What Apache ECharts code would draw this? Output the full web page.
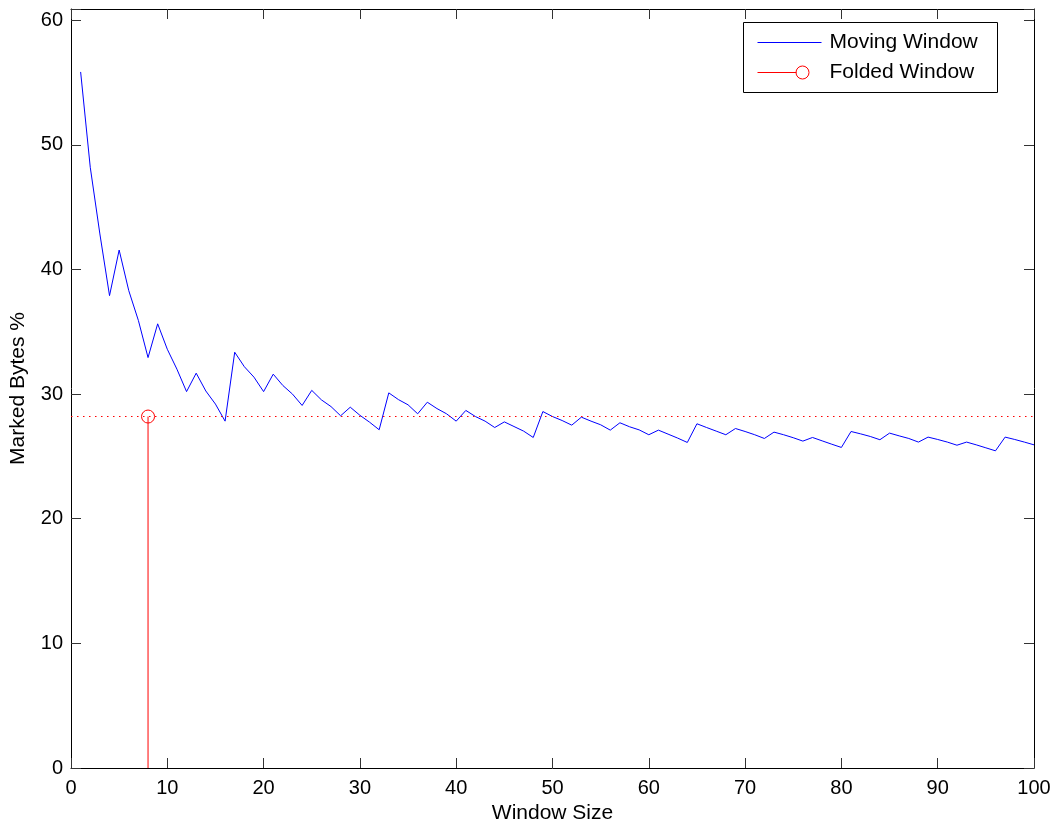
<!DOCTYPE html>
<html>
<head>
<meta charset="utf-8">
<title>Marked Bytes vs Window Size</title>
<script src="https://cdn.jsdelivr.net/npm/echarts@6/dist/echarts.min.js"></script>
<style>
  html, body { margin: 0; padding: 0; background: #fff; }
  #chart { width: 1058px; height: 824px; }
</style>
</head>
<body>
<div id="chart"></div>
<script>
// window sizes (x) and marked bytes % for the moving window
const windowSizes = [
  1, 2, 3, 4, 5, 6, 7, 8, 9, 10, 11, 12, 13, 14, 15, 16, 17, 18, 19, 20,
  21, 22, 23, 24, 25, 26, 27, 28, 29, 30, 31, 32, 33, 34, 35, 36, 37, 38, 39, 40,
  41, 42, 43, 44, 45, 46, 47, 48, 49, 50, 51, 52, 53, 54, 55, 56, 57, 58, 59, 60,
  61, 62, 63, 64, 65, 66, 67, 68, 69, 70, 71, 72, 73, 74, 75, 76, 77, 78, 79, 80,
  81, 82, 83, 84, 85, 86, 87, 88, 89, 90, 91, 92, 93, 94, 95, 96, 97, 98, 99, 100
];
const movingWindow = [
  55.85, 48.2, 42.85, 37.9, 41.56, 38.3, 35.9, 32.93, 35.64, 33.6,
  32.0, 30.2, 31.68, 30.25, 29.2, 27.83, 33.36, 32.2, 31.36, 30.2,
  31.6, 30.69, 30.0, 29.09, 30.3, 29.54, 29.0, 28.26, 28.95, 28.3,
  27.75, 27.14, 30.1, 29.56, 29.14, 28.42, 29.35, 28.84, 28.42, 27.83,
  28.69, 28.2, 27.83, 27.32, 27.77, 27.4, 27.03, 26.52, 28.6, 28.2,
  27.88, 27.51, 28.15, 27.83, 27.54, 27.11, 27.7, 27.38, 27.13, 26.74,
  27.11, 26.79, 26.47, 26.12, 27.62, 27.32, 27.03, 26.74, 27.24, 27.0,
  26.74, 26.44, 26.95, 26.74, 26.5, 26.23, 26.52, 26.25, 25.98, 25.72,
  27.0, 26.81, 26.6, 26.34, 26.87, 26.65, 26.44, 26.15, 26.55, 26.36,
  26.15, 25.9, 26.15, 25.93, 25.69, 25.45, 26.55, 26.36, 26.15, 25.93
];
// folded window result (single stem)
const foldedSize = 8;
const foldedValue = 28.2;

const xTicks = [0, 10, 20, 30, 40, 50, 60, 70, 80, 90, 100];
const yTicks = [0, 10, 20, 30, 40, 50, 60];

const chart = echarts.init(document.getElementById('chart'));

const font = 'Helvetica, "Liberation Sans", Arial, sans-serif';
const axisBase = {
  type: 'value',
  splitLine: { show: false },
  axisLine: { show: true, onZero: false, lineStyle: { color: '#000', width: 1 } },
  axisTick: { show: true, inside: true, length: 10, lineStyle: { color: '#333', width: 1 } }
};

const option = {
  animation: false,
  backgroundColor: '#fff',
  textStyle: { fontFamily: font },
  grid: { left: 71, right: 24, top: 9, bottom: 56, containLabel: false, outerBoundsMode: 'none' },
  xAxis: [
    Object.assign({}, axisBase, {
      position: 'bottom',
      min: xTicks[0], max: xTicks[xTicks.length - 1], interval: 10,
      name: 'Window Size',
      nameLocation: 'middle',
      nameGap: 32,
      nameTextStyle: { color: '#000', fontSize: 21, fontFamily: font },
      axisLabel: { color: '#000', fontSize: 20, margin: 10, fontFamily: font }
    }),
    Object.assign({}, axisBase, {
      position: 'top',
      min: xTicks[0], max: xTicks[xTicks.length - 1], interval: 10,
      axisLabel: { show: false }
    })
  ],
  yAxis: [
    Object.assign({}, axisBase, {
      position: 'left',
      min: yTicks[0], max: 60.9, interval: 10,
      name: 'Marked Bytes %',
      nameLocation: 'middle',
      nameGap: 42,
      nameTextStyle: { color: '#000', fontSize: 21, fontFamily: font },
      axisLabel: {
        color: '#000', fontSize: 20, margin: 8, fontFamily: font,
        formatter: v => (yTicks.indexOf(v) >= 0 ? String(v) : '')
      }
    }),
    Object.assign({}, axisBase, {
      position: 'right',
      min: yTicks[0], max: 60.9, interval: 10,
      axisLabel: { show: false }
    })
  ],
  series: [
    {
      name: 'Moving Window',
      type: 'line',
      data: windowSizes.map((w, i) => [w, movingWindow[i]]),
      symbol: 'none',
      lineStyle: { color: '#0000ff', width: 1 },
      itemStyle: { color: '#0000ff' },
      z: 3
    },
    {
      name: 'Folded Window',
      type: 'line',
      data: [
        { value: [foldedSize, 0], symbol: 'none' },
        { value: [foldedSize, foldedValue], symbol: 'circle' }
      ],
      symbolSize: 13,
      showSymbol: true,
      lineStyle: { color: '#ff0000', width: 1 },
      itemStyle: { color: 'transparent', borderColor: '#ff0000', borderWidth: 1 },
      markLine: {
        silent: true,
        symbol: 'none',
        label: { show: false },
        lineStyle: { color: '#ff0000', width: 1, type: [1.5, 4.5] },
        data: [{ yAxis: foldedValue }]
      },
      z: 4
    }
  ],
  // legend box, drawn like the MATLAB one
  graphic: [
    {
      type: 'group', left: 743, top: 22,
      children: [
        { type: 'rect', shape: { x: 0, y: 0, width: 254, height: 70 },
          style: { fill: '#fff', stroke: '#000', lineWidth: 1 } },
        { type: 'line', shape: { x1: 14, y1: 20, x2: 78, y2: 20 },
          style: { stroke: '#0000ff', lineWidth: 1 } },
        { type: 'text', x: 86, y: 20,
          style: { text: 'Moving Window', font: '21px ' + font, fill: '#000', verticalAlign: 'middle' } },
        { type: 'line', shape: { x1: 14, y1: 50, x2: 53, y2: 50 },
          style: { stroke: '#ff0000', lineWidth: 1 } },
        { type: 'circle', shape: { cx: 59, cy: 50, r: 6.5 },
          style: { fill: 'none', stroke: '#ff0000', lineWidth: 1 } },
        { type: 'text', x: 86, y: 50,
          style: { text: 'Folded Window', font: '21px ' + font, fill: '#000', verticalAlign: 'middle' } }
      ]
    }
  ]
};

chart.setOption(option);
window.addEventListener('resize', chart.resize);
</script>
</body>
</html>
